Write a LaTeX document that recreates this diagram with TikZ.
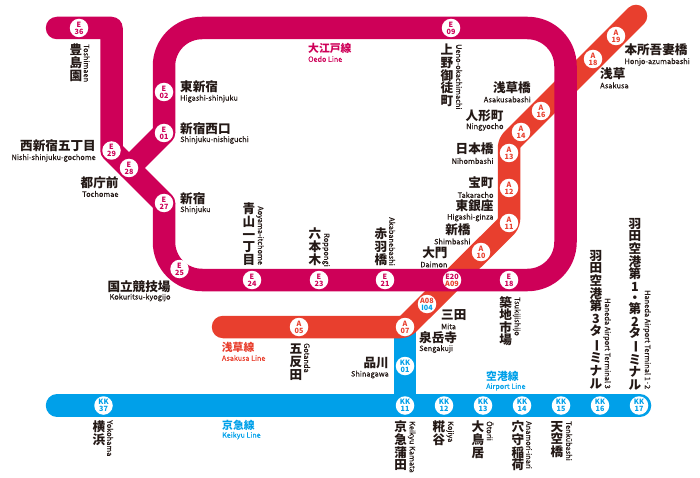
\documentclass[tikz,border=0pt]{standalone}
\usepackage{fontspec}
\setmainfont{Noto Sans CJK JP}
\newfontfamily\romf[FakeBold=0.2]{Noto Sans CJK JP}
\usetikzlibrary{backgrounds}
\definecolor{oedoc}{HTML}{CE0058}
\definecolor{asac}{HTML}{E83F2E}
\definecolor{keic}{HTML}{00A0E9}
\definecolor{inkc}{HTML}{231815}
\pgfdeclarelayer{lines}
\pgfsetlayers{lines,main}
\newcommand{\choon}{\rotatebox[origin=c]{-90}{ー}}
\tikzset{
  stn/.style={circle,fill=white,inner sep=0pt,minimum size=18.5pt,align=center,font=\bfseries\fontsize{7.2}{6.8}\selectfont},
  eo/.style={stn,text=oedoc},
  as/.style={stn,text=asac},
  kk/.style={stn,text=keic},
  kan/.style={inner sep=0pt,text=inkc,font=\bfseries\fontsize{12.6}{12.6}\selectfont},
  tate/.style={kan,align=center,anchor=north},
  rom/.style={inner sep=0pt,text=inkc,font=\romf\fontsize{7.4}{7.4}\selectfont},
  romv/.style={rom,rotate=-90,anchor=west},
  linekan/.style={inner sep=0pt,anchor=west,font=\bfseries\fontsize{10.8}{10.8}\selectfont},
  linerom/.style={inner sep=0pt,anchor=west,font=\romf\fontsize{7.2}{7.2}\selectfont},
  track/.style={line width=22.5pt,line join=round}
}
\begin{document}
\begin{tikzpicture}[x=1pt,y=-1pt]
  \useasboundingbox (0,0) rectangle (700,478);
  \draw
    (79,28) node[eo] (e36){E\\36}
    (111.5,150.5) node[eo] (e29){E\\29}
    (129,168) node[eo] (e28){E\\28}
    (164,203) node[eo] (e27){E\\27}
    (164,133) node[eo] (e01){E\\01}
    (164,92) node[eo] (e02){E\\02}
    (451,28) node[eo] (e09){E\\09}
    (179.5,269) node[eo] (e25){E\\25}
    (252,280) node[eo] (e24){E\\24}
    (319,280) node[eo] (e23){E\\23}
    (385,280) node[eo] (e21){E\\21}
    (452,280) node[stn] (e20){\textcolor{oedoc}{E20}\\\textcolor{asac}{A09}}
    (509,280) node[eo] (e18){E\\18};
  \draw
    (616,36) node[as] (a19){A\\19}
    (593,59) node[as] (a18){A\\18}
    (541,111) node[as] (a16){A\\16}
    (521,132) node[as] (a14){A\\14}
    (509,153) node[as] (a13){A\\13}
    (509,188) node[as] (a12){A\\12}
    (509,223) node[as] (a11){A\\11}
    (481,252) node[as] (a10){A\\10}
    (427,304) node[stn] (a08){\textcolor{asac}{A08}\\\textcolor{keic}{I04}}
    (405,327) node[as] (a07){A\\07}
    (299,327) node[as] (a05){A\\05};
  \draw
    (103.5,405.5) node[kk] (kk37){KK\\37}
    (405,366) node[kk] (kk01){KK\\01}
    (405,405.5) node[kk] (kk11){KK\\11}
    (444,405.5) node[kk] (kk12){KK\\12}
    (483,405.5) node[kk] (kk13){KK\\13}
    (522,405.5) node[kk] (kk14){KK\\14}
    (561,405.5) node[kk] (kk15){KK\\15}
    (600,405.5) node[kk] (kk16){KK\\16}
    (639,405.5) node[kk] (kk17){KK\\17};
  \coordinate (kw) at (57,405.5);
  \coordinate (ke) at (640,405.5);
  \coordinate (aw) at (223,327);
  \coordinate (ae) at (636,16);
  \coordinate (ac1) at (509,143);
  \coordinate (ac2) at (509,223.5);
  \coordinate (tw) at (57,28);
  \coordinate (tc) at (111.5,28);
  \coordinate (onw) at (164,28);
  \coordinate (one) at (565.5,28);
  \coordinate (ose) at (565.5,280);
  \coordinate (osw) at (164,280);
  \begin{pgfonlayer}{lines}
    \draw[track,keic,line cap=round] (kw) to (ke);
    \draw[track,keic] (a07.center) to (kk11.center);
    \draw[track,asac,line cap=round,rounded corners=4pt] (ae) -- (ac1) -- (ac2) -- (a07.center) -- (aw);
    \draw[track,oedoc,line cap=round] (tw) -- (tc) -- (e29.center) -- (e27.center);
    \draw[track,oedoc,line cap=round] (e28.center) -- (e01.center);
    \draw[track,oedoc,rounded corners=38pt] (e01.center) -- (onw) -- (one) -- (ose) -- (osw) -- (e27.center);
  \end{pgfonlayer}
  \node[kan,anchor=west] (higashishinjuku) at (180,87) {東新宿};
  \node[rom,anchor=west] (higashishinjukur) at (180,98.7) {Higashi-shinjuku};
  \node[kan,anchor=west] (nishiguchi) at (180,129) {新宿西口};
  \node[rom,anchor=west] (nishiguchir) at (180,140) {Shinjuku-nishiguchi};
  \node[kan,anchor=east] (gochome) at (96,146) {西新宿五丁目};
  \node[rom,anchor=east] (gochomer) at (96,158) {Nishi-shinjuku-gochome};
  \node[kan,anchor=east] (tochomae) at (118.7,182.7) {都庁前};
  \node[rom,anchor=east] (tochomaer) at (118.7,194) {Tochomae};
  \node[kan,anchor=west] (shinjuku) at (180,199) {新宿};
  \node[rom,anchor=west] (shinjukur) at (180,210) {Shinjuku};
  \node[kan,anchor=east] (kokuritsu) at (170.7,286.7) {国立競技場};
  \node[rom,anchor=east] (kokuritsur) at (170.7,297.5) {Kokuritsu-kyogijo};
  \node[kan,anchor=east] (asakusabashi) at (531,88) {浅草橋};
  \node[rom,anchor=east] (asakusabashir) at (531,99.5) {Asakusabashi};
  \node[kan,anchor=east] (ningyocho) at (503.7,115.7) {人形町};
  \node[rom,anchor=east] (ningyochor) at (503.7,127) {Ningyocho};
  \node[kan,anchor=east] (nihombashi) at (493.7,149) {日本橋};
  \node[rom,anchor=east] (nihombashir) at (493.7,161) {Nihombashi};
  \node[kan,anchor=east] (takaracho) at (493.7,183) {宝町};
  \node[rom,anchor=east] (takarachor) at (493.7,195) {Takaracho};
  \node[kan,anchor=east] (ginza) at (493.7,206) {東銀座};
  \node[rom,anchor=east] (ginzar) at (493.7,217.5) {Higashi-ginza};
  \node[kan,anchor=east] (shimbashi) at (470.7,230) {新橋};
  \node[rom,anchor=east] (shimbashir) at (470.7,241.5) {Shimbashi};
  \node[kan,anchor=east] (daimon) at (447.7,253) {大門};
  \node[rom,anchor=east] (daimonr) at (447.7,264.5) {Daimon};
  \node[kan,anchor=west] (mita) at (441,315) {三田};
  \node[rom,anchor=west] (mitar) at (441,326.5) {Mita};
  \node[kan,anchor=west] (sengakuji) at (419,337.7) {泉岳寺};
  \node[rom,anchor=west] (sengakujir) at (419,349) {Sengakuji};
  \node[kan,anchor=east] (shinagawa) at (389,363) {品川};
  \node[rom,anchor=east] (shinagawar) at (389,374.5) {Shinagawa};
  \node[kan,anchor=west] (honjo) at (624.3,50) {本所吾妻橋};
  \node[rom,anchor=west] (honjor) at (624.3,62) {Honjo-azumabashi};
  \node[kan,anchor=west] (asakusa) at (600,74) {浅草};
  \node[rom,anchor=west] (asakusar) at (600,85.5) {Asakusa};
  \node[tate] (toshimaen) at (76,44) {豊\\島\\園};
  \node[romv] (toshimaenr) at (86.7,44) {Toshimaen};
  \node[tate] (okachimachi) at (447,44) {上\\野\\御\\徒\\町};
  \node[romv] (okachimachir) at (459,44) {Ueno-okachimachi};
  \node[tate] (aoyama) at (249,203) {青\\山\\一\\丁\\目};
  \node[romv] (aoyamar) at (260,206) {Aoyama-itchome};
  \node[tate] (roppongi) at (315,228) {六\\本\\木};
  \node[romv] (roppongir) at (326,233) {Roppongi};
  \node[tate] (akabane) at (381,228) {赤\\羽\\橋};
  \node[romv] (akabaner) at (392,217) {Akabanebashi};
  \node[tate] (gotanda) at (296,344) {五\\反\\田};
  \node[romv] (gotandar) at (307,343) {Gotanda};
  \node[tate] (tsukiji) at (505.7,296) {築\\地\\市\\場};
  \node[romv] (tsukijir) at (516.7,297) {Tsukijishijo};
  \node[tate] (yokohama) at (99,421) {横\\浜};
  \node[romv] (yokohamar) at (110,420) {Yokohama};
  \node[tate] (kamata) at (400.7,421) {京\\急\\蒲\\田};
  \node[romv] (kamatar) at (411.7,421) {Keikyu Kamata};
  \node[tate] (kojiya) at (439,421) {糀\\谷};
  \node[romv] (kojiyar) at (450,421) {Kojiya};
  \node[tate] (otorii) at (478,421) {大\\鳥\\居};
  \node[romv] (otoriir) at (490,421) {Ōtorii};
  \node[tate] (anamori) at (518,421) {穴\\守\\稲\\荷};
  \node[romv] (anamorir) at (529,421) {Anamori-inari};
  \node[tate] (tenku) at (557,421) {天\\空\\橋};
  \node[romv] (tenkur) at (569,421) {Tenkūbashi};
  \node[tate] (term3) at (596,250) {羽\\田\\空\\港\\第\\3\\タ\\\choon\\ミ\\ナ\\ル};
  \node[romv] (term3r) at (607,298) {Haneda Airport Terminal 3};
  \node[tate] (term12) at (635,218) {羽\\田\\空\\港\\第\\1\\[-1.5pt]・\\[-1.5pt]第\\2\\[-1.5pt]タ\\\choon\\ミ\\ナ\\ル};
  \node[romv] (term12r) at (647,290) {Haneda Airport Terminal 1·2};
  \node[linekan,text=oedoc] (oedokan) at (308,48) {大江戸線};
  \node[linerom,text=oedoc] (oedorom) at (308,59) {Oedo Line};
  \node[linekan,text=asac] (asakan) at (221.7,347.7) {浅草線};
  \node[linerom,text=asac] (asarom) at (221.7,358) {Asakusa Line};
  \node[linekan,text=keic] (keikan) at (222,425) {京急線};
  \node[linerom,text=keic] (keirom) at (222,435.7) {Keikyu Line};
  \node[linekan,text=keic] (airkan) at (486,376.7) {空港線};
  \node[linerom,text=keic] (airrom) at (486,387) {Airport Line};
\end{tikzpicture}
\end{document}
